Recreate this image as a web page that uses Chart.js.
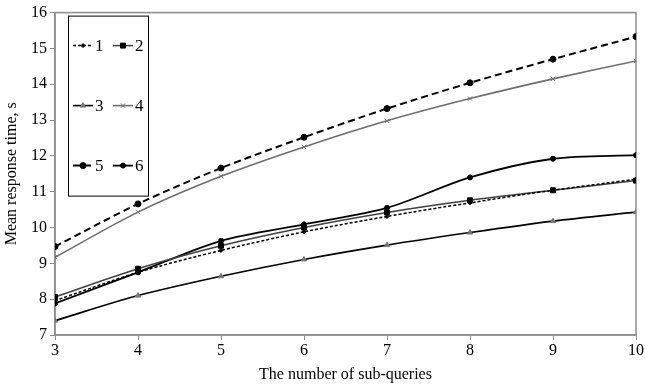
<!DOCTYPE html>
<html>
<head>
<meta charset="utf-8">
<script src="https://cdn.jsdelivr.net/npm/chart.js@4"></script>
<style>
  html, body { margin: 0; padding: 0; background: #fff; }
  #wrap { width: 645px; height: 388px; }
</style>
</head>
<body>
<div id="wrap"><canvas id="chart" width="645" height="388"></canvas></div>
<script>
// Data
const subQueries = [3, 4, 5, 6, 7, 8, 9, 10];
const series1 = [7.96, 8.75, 9.36, 9.88, 10.31, 10.69, 11.04, 11.35];
const series2 = [8.06, 8.85, 9.49, 10.00, 10.42, 10.76, 11.04, 11.31];
const series3 = [7.40, 8.10, 8.64, 9.11, 9.51, 9.86, 10.18, 10.43];
const series4 = [9.17, 10.43, 11.43, 12.25, 12.98, 13.60, 14.15, 14.65];
const series5 = [9.47, 10.66, 11.66, 12.52, 13.32, 14.04, 14.70, 15.33];
const series6 = [7.88, 8.75, 9.63, 10.09, 10.55, 11.40, 11.92, 12.02];
const seriesLabels = ['1', '2', '3', '4', '5', '6'];
const yTicks = [7, 8, 9, 10, 11, 12, 13, 14, 15, 16];

const FONT = "'Liberation Serif', 'DejaVu Serif', serif";
const AXIS_GRAY = '#8c8c8c';

function pts(values) {
  return values.map((v, i) => ({ x: subQueries[i], y: v }));
}

// Legend drawn inside the plot as a 2 x 3 grid with a frame,
// plus the gray frame round the plot area
const boxLegend = {
  id: 'boxLegend',
  beforeDatasetsDraw(chart) {
    const ctx = chart.ctx;
    const a = chart.chartArea;
    ctx.save();
    ctx.strokeStyle = AXIS_GRAY;
    ctx.lineWidth = 1.5;
    ctx.strokeRect(a.left, a.top, a.right - a.left, a.bottom - a.top);
    ctx.restore();
  },
  afterDatasetsDraw(chart) {
    const ctx = chart.ctx;
    const a = chart.chartArea;
    const x0 = a.left + 13, y0 = a.top + 3, w = 80, h = 180;
    ctx.save();
    ctx.fillStyle = '#fff';
    ctx.fillRect(x0, y0, w, h);
    ctx.strokeStyle = '#000';
    ctx.lineWidth = 1;
    ctx.strokeRect(x0 + 0.5, y0 + 0.5, w, h);
    ctx.font = '17px ' + FONT;
    ctx.textBaseline = 'middle';
    chart.data.datasets.forEach((ds, i) => {
      const col = i % 2, row = Math.floor(i / 2);
      const lx = x0 + 5 + col * 40;
      const ly = y0 + 30 + row * 60;
      ctx.strokeStyle = ds.borderColor;
      ctx.lineWidth = ds.borderWidth;
      ctx.setLineDash(ds.borderDash || []);
      ctx.beginPath();
      ctx.moveTo(lx, ly);
      ctx.lineTo(lx + 20, ly);
      ctx.stroke();
      ctx.setLineDash([]);
      ctx.fillStyle = ds.pointBackgroundColor;
      ctx.strokeStyle = ds.pointBorderColor;
      ctx.lineWidth = 1;
      Chart.helpers.drawPoint(ctx, {
        pointStyle: ds.pointStyle,
        radius: ds.pointRadius,
        rotation: 0,
        borderWidth: 1
      }, lx + 10, ly);
      ctx.fillStyle = '#000';
      ctx.textAlign = 'left';
      ctx.fillText(ds.label, lx + 22, ly + 1);
    });
    ctx.restore();
  }
};

const styles = [
  { color: '#000', width: 1.5, dash: [3, 2], point: 'rectRot', r: 2, pc: '#000' },
  { color: '#404040', width: 1.5, dash: [], point: 'rect', r: 3.5, pc: '#000' },
  { color: '#000', width: 1.6, dash: [], point: 'triangle', r: 3, pc: '#777' },
  { color: '#6e6e6e', width: 1.6, dash: [], point: 'crossRot', r: 3, pc: '#6e6e6e' },
  { color: '#000', width: 2, dash: [7, 4], point: 'circle', r: 3, pc: '#000' },
  { color: '#000', width: 1.8, dash: [], point: 'circle', r: 2.5, pc: '#000' }
];
const allSeries = [series1, series2, series3, series4, series5, series6];

const datasets = allSeries.map((vals, i) => ({
  label: seriesLabels[i],
  data: pts(vals),
  borderColor: styles[i].color,
  borderWidth: styles[i].width,
  borderDash: styles[i].dash,
  pointStyle: styles[i].point,
  pointRadius: styles[i].r,
  pointBackgroundColor: styles[i].pc,
  pointBorderColor: styles[i].pc,
  pointBorderWidth: 1,
  tension: 0.3,
  fill: false
}));

new Chart(document.getElementById('chart'), {
  type: 'line',
  data: { datasets },
  plugins: [boxLegend],
  options: {
    responsive: false,
    animation: false,
    layout: { padding: { top: 10, right: 9, left: 0, bottom: 0 } },
    plugins: { legend: { display: false }, tooltip: { enabled: false } },
    scales: {
      x: {
        type: 'linear',
        min: 3,
        max: 10,
        ticks: { stepSize: 1, color: '#000', font: { family: FONT, size: 16 }, padding: 1 },
        grid: { drawOnChartArea: false, drawTicks: true, tickLength: 5, color: AXIS_GRAY },
        border: { color: AXIS_GRAY, width: 1.5 },
        title: { display: true, text: 'The number of sub-queries', color: '#000', font: { family: FONT, size: 16 }, padding: { top: 4 } },
        afterFit(scale) { scale.height = 53; }
      },
      y: {
        min: 7,
        max: 16,
        afterBuildTicks(scale) { scale.ticks = yTicks.map(v => ({ value: v })); },
        ticks: { color: '#000', font: { family: FONT, size: 16 }, padding: 3 },
        grid: { drawOnChartArea: false, drawTicks: true, tickLength: 5, color: AXIS_GRAY },
        border: { color: AXIS_GRAY, width: 1.5 },
        title: { display: true, text: 'Mean response time, s', color: '#000', font: { family: FONT, size: 16 }, padding: { top: 2, bottom: 2 } },
        afterFit(scale) { scale.width = 55; }
      }
    }
  }
});
</script>
</body>
</html>
